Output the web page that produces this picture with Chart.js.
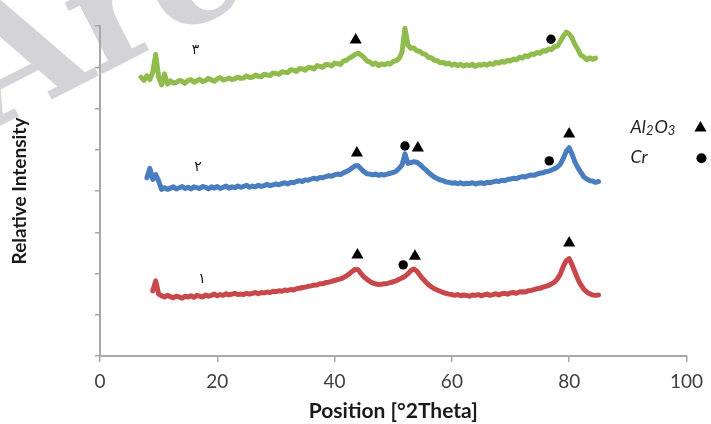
<!DOCTYPE html>
<html>
<head>
<meta charset="utf-8">
<script src="https://cdn.jsdelivr.net/npm/chart.js@4.4.0/dist/chart.umd.min.js"></script>
<style>
  html, body { margin: 0; padding: 0; background: #ffffff; }
  canvas { display: block; }
</style>
</head>
<body>
<canvas id="xrd" width="711" height="424"></canvas>
<script>
// ---- XRD patterns (intensity in arbitrary units, offset per sample) ----
const angleStep = 0.5;              // degrees 2θ between readings

// sample ۳ (top, green)
const sample3Start = 7.0;
const sample3 = [
  676,668,679,670,688,731,676,657,684,659,
  667,662,663,668,666,661,668,670,664,667,
  671,665,668,673,669,666,672,675,669,671,
  674,670,672,676,673,674,679,675,676,681,
  678,677,683,681,680,686,685,683,689,688,
  687,694,693,690,697,696,693,700,699,696,
  704,702,700,707,706,703,710,709,707,715,
  717,722,726,731,734,730,724,715,713,707,
  710,704,708,706,709,708,714,716,721,737,
  795,754,746,747,740,739,733,731,724,723,
  717,716,711,712,708,710,705,708,704,707,
  703,706,704,707,702,706,705,708,705,709,
  707,712,710,714,712,717,715,720,718,724,
  722,728,726,732,731,736,734,740,739,744,
  743,750,751,763,775,785,781,771,754,743,
  729,725,718,723,719,722
];

// sample ۲ (middle, blue)
const sample2Start = 8.0;
const sample2 = [
  432,455,428,440,424,404,408,404,407,410,
  405,408,411,406,409,405,410,408,406,411,
  409,405,410,407,411,406,409,412,407,410,
  408,412,409,411,414,409,412,410,414,411,
  413,416,413,415,417,415,418,420,417,421,
  420,423,425,423,427,426,429,431,429,433,
  432,435,437,436,439,441,440,444,447,451,
  456,461,461,454,447,442,441,439,441,438,
  440,439,441,443,445,448,455,463,490,467,
  469,471,470,465,458,452,445,439,434,430,
  427,425,422,421,419,420,418,420,417,419,
  418,420,417,419,420,418,421,420,422,424,
  423,426,425,428,429,431,430,433,435,434,
  437,439,438,441,443,444,447,448,451,454,
  458,465,479,496,505,489,470,456,445,434,
  429,425,424,421,423
];

// sample ۱ (bottom, red)
const sample1Start = 9.0;
const sample1 = [
  158,182,150,146,143,147,144,141,145,143,
  140,145,143,146,142,147,145,143,148,145,
  147,150,146,149,147,151,148,150,152,149,
  150,149,152,150,152,154,151,154,153,155,
  154,157,156,158,157,160,159,161,160,163,
  164,166,167,169,170,172,172,175,175,178,
  179,181,183,185,187,190,194,199,205,210,
  209,200,192,186,181,177,175,173,174,175,
  176,178,180,182,186,189,193,199,207,211,
  206,197,188,180,173,168,163,160,157,154,
  152,150,149,147,149,146,148,147,145,148,
  147,149,146,148,150,147,149,151,148,151,
  152,150,153,154,152,155,156,155,158,159,
  161,163,164,167,169,171,175,179,187,199,
  217,231,236,221,203,186,172,162,155,151,
  148,147,148
];

// phase markers placed above the reflections
const al2o3PeakX = [43.6, 80.0, 43.8, 54.2, 80.0, 43.9, 53.7, 80.0];
const al2o3PeakY = [766, 817, 492, 504, 538, 245, 242, 274];
const crPeakX    = [51.9, 76.9, 52.0, 76.6, 51.7];
const crPeakY    = [817, 768, 509, 473, 221];

// axis ticks
const xTicks = [0, 20, 40, 60, 80, 100];
const yTickStep = 100;

// sample numbers written beside each pattern
const sampleLabels = ['۳', '۲', '۱'];
const sampleLabelX = [16.3, 16.7, 17.4];
const sampleLabelY = [742, 458, 186];

const seriesColors = ['#8fbc4c', '#4a7dbf', '#c8474b'];
const axisColor = '#a8a8a8';

function toPoints(start, values) {
  return values.map((v, i) => ({ x: start + i * angleStep, y: v }));
}
function markerPoints(xs, ys) {
  return xs.map((x, i) => ({ x: x, y: ys[i] }));
}

// light diagonal watermark behind the plot
const watermark = {
  id: 'watermark',
  beforeDraw(chart) {
    const ctx = chart.ctx;
    ctx.save();
    ctx.fillStyle = '#d3d3d8';
    ctx.translate(-10, 131);
    ctx.rotate(-27 * Math.PI / 180);
    ctx.font = 'bold 155px "DejaVu Serif", "Liberation Serif", serif';
    ctx.textBaseline = 'alphabetic';
    ctx.fillText('Archive', 0, 0);
    ctx.restore();
  }
};

// sample numbers and the phase key on the right
const annotations = {
  id: 'annotations',
  afterDatasetsDraw(chart) {
    const ctx = chart.ctx;
    const xs = chart.scales.x, ys = chart.scales.y;
    ctx.save();
    ctx.fillStyle = '#111111';
    ctx.font = '14px "DejaVu Sans", sans-serif';
    ctx.textAlign = 'center';
    ctx.textBaseline = 'middle';
    sampleLabels.forEach((t, i) => {
      ctx.fillText(t, xs.getPixelForValue(sampleLabelX[i]), ys.getPixelForValue(sampleLabelY[i]));
    });

    // key: Al2O3 ▲, Cr ●
    const keyX = chart.chartArea.right - 56;
    const row1 = ys.getPixelForValue(555);
    const row2 = ys.getPixelForValue(482);
    const big = 'italic 18px Lato, "Open Sans", sans-serif';
    const small = 'italic 13px Lato, "Open Sans", sans-serif';
    ctx.textAlign = 'left';
    ctx.textBaseline = 'middle';
    ctx.fillStyle = '#222222';
    let x = keyX;
    const parts = [['Al', big, 0], ['2', small, 4], ['O', big, 0], ['3', small, 4]];
    parts.forEach(([txt, f, dy]) => {
      ctx.font = f;
      ctx.fillText(txt, x, row1 + dy);
      x += ctx.measureText(txt).width + (dy ? 1 : 0);
    });
    ctx.font = big;
    ctx.fillText('Cr', keyX, row2);
    ctx.fillStyle = '#000000';
    Chart.helpers.drawPoint(ctx, { pointStyle: 'triangle', radius: 7, borderWidth: 0 }, keyX + 70, row1 + 1);
    Chart.helpers.drawPoint(ctx, { pointStyle: 'circle', radius: 5, borderWidth: 0 }, keyX + 71, row2 + 1);
    ctx.restore();
  }
};

const lineDefaults = { pointRadius: 0, borderWidth: 5, tension: 0, fill: false,
                       borderJoinStyle: 'round', borderCapStyle: 'round' };

new Chart(document.getElementById('xrd'), {
  type: 'line',
  data: {
    datasets: [
      Object.assign({ label: '۳', data: toPoints(sample3Start, sample3), borderColor: seriesColors[0] }, lineDefaults),
      Object.assign({ label: '۲', data: toPoints(sample2Start, sample2), borderColor: seriesColors[1] }, lineDefaults),
      Object.assign({ label: '۱', data: toPoints(sample1Start, sample1), borderColor: seriesColors[2] }, lineDefaults),
      { type: 'scatter', label: 'Al2O3', data: markerPoints(al2o3PeakX, al2o3PeakY),
        pointStyle: 'triangle', pointRadius: 7, backgroundColor: '#000', borderWidth: 0 },
      { type: 'scatter', label: 'Cr', data: markerPoints(crPeakX, crPeakY),
        pointStyle: 'circle', pointRadius: 4.7, backgroundColor: '#000', borderWidth: 0 }
    ]
  },
  options: {
    responsive: false,
    animation: false,
    devicePixelRatio: 1,
    layout: { padding: { top: 26, right: 17, left: 0, bottom: 0 } },
    plugins: { legend: { display: false }, tooltip: { enabled: false } },
    scales: {
      x: {
        type: 'linear', min: 0, max: 100,
        afterBuildTicks(scale) { scale.ticks = xTicks.map(v => ({ value: v })); },
        afterFit(scale) { scale.height = 68; },
        grid: { drawOnChartArea: false, drawTicks: true, tickLength: 6, color: axisColor, lineWidth: 1.5 },
        border: { color: axisColor, width: 2 },
        ticks: { color: '#404040', padding: 8, font: { family: 'Lato, "Open Sans", sans-serif', size: 19 } },
        title: { display: true, text: 'Position [°2Theta]', color: '#1a1a1a',
                 font: { family: 'Lato, "Open Sans", sans-serif', size: 21, weight: 'bold' },
                 padding: { top: 0, bottom: 0 } }
      },
      y: {
        type: 'linear', min: 0, max: 800,
        ticks: { display: false, stepSize: yTickStep },
        afterFit(scale) { scale.width = 100; },
        grid: { drawOnChartArea: false, drawTicks: true, tickLength: 5, color: axisColor, lineWidth: 1.5 },
        border: { color: axisColor, width: 2 },
        title: { display: true, text: 'Relative Intensity', color: '#1a1a1a',
                 font: { family: 'Lato, "Open Sans", sans-serif', size: 19, weight: 'bold' },
                 padding: { top: 8, bottom: 0 } }
      }
    }
  },
  plugins: [watermark, annotations]
});
</script>
</body>
</html>
